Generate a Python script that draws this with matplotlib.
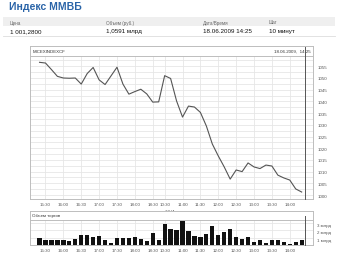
import numpy as np
import pandas as pd
import matplotlib
matplotlib.use("Agg")
import matplotlib.pyplot as plt
from matplotlib.ticker import MultipleLocator

plt.rcParams['font.family'] = ['Liberation Sans', 'DejaVu Sans']

# 10-минутные отрезки: конец сессии 17.06 и начало 18.06
day1 = pd.date_range('2009-06-17 15:20', '2009-06-17 18:40', freq='10min')
day2 = pd.date_range('2009-06-18 10:30', '2009-06-18 14:20', freq='10min')
times = day1.append(day2)

# значения индекса (закрытие отрезка)
index_values = [1056.7, 1056.4, 1053.6, 1050.7, 1050.0, 1049.9, 1050.0, 1047.4,
                1051.9, 1054.5, 1049.2, 1047.2, 1050.9, 1054.6, 1047.4, 1043.1,
                1044.2, 1045.2, 1043.2, 1039.7, 1039.8,
                1051.0, 1049.8, 1040.2, 1033.3, 1038.0, 1037.6, 1035.3, 1029.5,
                1021.8, 1016.7, 1012.0, 1006.8, 1010.7, 1010.0, 1013.7, 1012.0,
                1011.3, 1012.8, 1012.4, 1008.5, 1007.3, 1006.4, 1002.6, 1001.28]

# объем торгов, млрд руб.
volumes = [0.97, 0.67, 0.67, 0.67, 0.67, 0.57, 0.80, 1.37, 1.33, 1.11, 1.24,
           0.67, 0.31, 0.89, 0.89, 0.89, 1.11, 0.76, 0.49, 1.56, 0.67,
           2.76, 2.09, 2.00, 3.20, 1.87, 1.20, 1.07, 1.43, 2.49, 1.33, 1.73,
           2.17, 1.07, 0.84, 1.03, 0.44, 0.67, 0.31, 0.63, 0.63, 0.40, 0.17,
           0.36, 0.71]

y_ticks = [1000, 1005, 1010, 1015, 1020, 1025, 1030, 1035, 1040, 1045, 1050, 1055]
vol_ticks = [1, 2, 3]
vol_tick_labels = ['1 млрд', '2 млрд', '3 млрд']

header_labels = ['Цена', 'Объем (руб.)', 'Дата/Время', 'Шаг']
header_values = ['1 001,2800', '1,0591 млрд', '18.06.2009 14:25', '10 минут']
now = pd.Timestamp('2009-06-18 14:25')

x = np.arange(len(times))
tick_pos = [i for i, t in enumerate(times) if t.minute in (0, 30) or i == len(day1)]
tick_lab = [times[i].strftime('%H:%M') for i in tick_pos]
now_x = len(times) - 1 + (now - times[-1]) / pd.Timedelta('10min')

W, H = 340, 255
fig = plt.figure(figsize=(3.4, 2.55), dpi=100)
fig.patch.set_facecolor('white')

def box(l, t, r, b):
    return [l / W, 1 - b / H, (r - l) / W, (b - t) / H]

# заголовок и шапка таблицы
fig.text(9 / W, 1 - 6.5 / H, 'Индекс ММВБ', color='#2a64a8', fontsize=7.5,
         fontweight='bold', va='center')
band = plt.Rectangle((3 / W, 1 - 27 / H), 332 / W, 9 / H,
                     transform=fig.transFigure, facecolor='#efefef',
                     edgecolor='none', zorder=0)
fig.add_artist(band)
fig.add_artist(plt.Line2D([3 / W, 335 / W], [1 - 37 / H, 1 - 37 / H],
                          color='#dddddd', lw=0.6, transform=fig.transFigure))
for xp, lab, val in zip([10, 106, 203, 269], header_labels, header_values):
    fig.text(xp / W, 1 - 23 / H, lab, fontsize=3.3, color='#666666', va='center')
    fig.text(xp / W, 1 - 31.5 / H, val, fontsize=4.5, color='#111111', va='center')

grid_c = '#e6e6e6'
edge_c = '#bdbdbd'
xlim = (-1.6, 45.9)

def style_frame(ax):
    for s in ax.spines.values():
        s.set_color(edge_c)
        s.set_linewidth(0.7)

# шапка основного графика
hx = fig.add_axes(box(30, 47, 313, 57))
hx.set_xlim(xlim)
hx.set_xticks([])
hx.set_yticks([])
style_frame(hx)
hx.text(0.008, 0.5, 'MICEXINDEXCF', transform=hx.transAxes, fontsize=3.2,
        va='center', color='#333333')
hx.text(0.992, 0.5, now.strftime('%d.%m.%Y,  %H:%M'), transform=hx.transAxes,
        fontsize=3.2, va='center', ha='right', color='#333333')

# основной график
ax = fig.add_axes(box(30, 57, 313, 200))
ax.plot(x, index_values, color='#555555', lw=0.8, zorder=3)
# отметка текущего времени проходит и через шапку
ax.plot([now_x, now_x], [0, 1 + 9 / 143], transform=ax.get_xaxis_transform(),
        color='#555555', lw=0.7, zorder=3, clip_on=False)
ax.set_xlim(xlim)
ax.set_ylim(998.3, 1059.4)
ax.set_yticks(y_ticks)
ax.yaxis.set_minor_locator(MultipleLocator(2.5))
ax.yaxis.tick_right()
ax.tick_params(axis='y', which='both', length=0, pad=3, labelsize=3.2,
               labelcolor='#555555')
ax.set_xticks(tick_pos)
ax.set_xticklabels(tick_lab)
ax.tick_params(axis='x', length=0, pad=2, labelsize=3.2, labelcolor='#555555')
ax.grid(True, which='both', color=grid_c, lw=0.6)
ax.set_axisbelow(True)
style_frame(ax)
ax.text(len(day1), -0.085, times[len(day1)].strftime('%d') + ' Июн',
        transform=ax.get_xaxis_transform(), fontsize=3.2, color='#555555',
        ha='left', va='center')

# шапка графика объема
vh = fig.add_axes(box(30, 212, 313, 221))
vh.set_xlim(xlim)
vh.set_xticks([])
vh.set_yticks([])
style_frame(vh)
vh.text(0.008, 0.5, 'Объем торгов', transform=vh.transAxes, fontsize=3.2,
        va='center', color='#333333')

# объем торгов
vx = fig.add_axes(box(30, 221, 313, 246))
vx.bar(x, volumes, width=0.72, color='#111111', zorder=3)
vx.plot([now_x, now_x], [0, 1 + 4 / 25], transform=vx.get_xaxis_transform(),
        color='#555555', lw=0.7, zorder=3, clip_on=False)
vx.set_xlim(xlim)
vx.set_ylim(0, 3.35)
vx.set_yticks(vol_ticks)
vx.set_yticklabels(vol_tick_labels, va='top')
vx.yaxis.tick_right()
vx.tick_params(axis='y', length=0, pad=3, labelsize=3.2, labelcolor='#555555')
vx.set_xticks(tick_pos)
vx.set_xticklabels(tick_lab)
vx.tick_params(axis='x', length=0, pad=2, labelsize=3.2, labelcolor='#555555')
vx.grid(True, color=grid_c, lw=0.6)
vx.set_axisbelow(True)
style_frame(vx)

fig.savefig('out.png', dpi=100)
